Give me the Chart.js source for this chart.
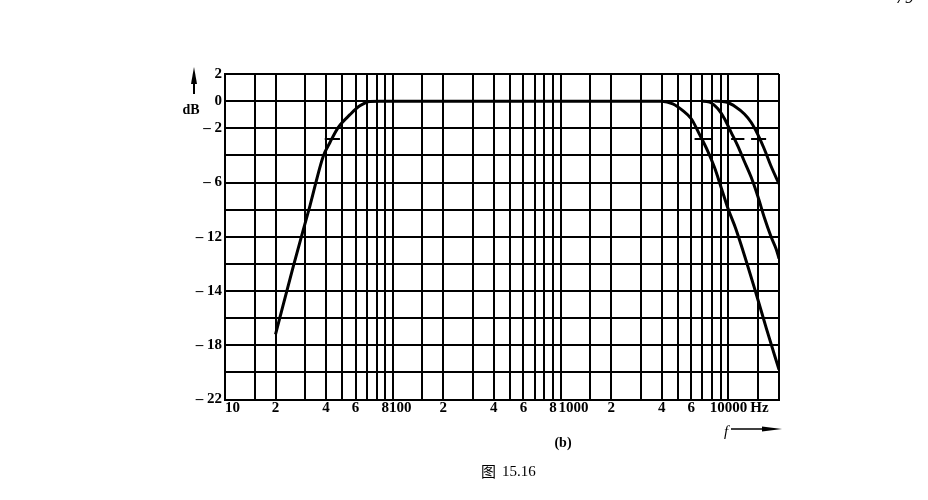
<!DOCTYPE html>
<html>
<head>
<meta charset="utf-8">
<script src="https://cdn.jsdelivr.net/npm/chart.js@4.4.0/dist/chart.umd.min.js"></script>
<style>
  html, body { margin: 0; padding: 0; background: #fff; }
  #wrap { width: 928px; height: 500px; position: relative; }
</style>
</head>
<body>
<div id="wrap"><canvas id="c"></canvas></div>
<script>
// ---- data ----
// Band curve (high-pass rise, flat, first roll-off)
const freqA = [20, 25.5, 32.1, 38.5, 42.2, 47.2, 55.5, 63.6, 73, 84, 200, 1000, 4000, 4660, 5345, 6000, 6720, 7535, 8260, 9060, 9920, 11120, 14620, 16760, 20000];
const dbA   = [-17.2, -12.2, -7.7, -4.06, -3.05, -1.95, -1.0, -0.35, -0.02, 0, 0, 0, 0, -0.2, -0.7, -1.3, -2.45, -3.7, -4.9, -6.4, -7.9, -9.5, -14.2, -16.7, -19.8];
// Second roll-off
const freqB = [6870, 7710, 8650, 9470, 10370, 11360, 12440, 13640, 14940, 16370, 17940, 19230, 20000];
const dbB   = [0, -0.07, -0.57, -1.3, -2.3, -3.3, -4.45, -5.6, -7.0, -8.6, -10.0, -10.9, -11.6];
// Third roll-off
const freqC = [8260, 9660, 11100, 12440, 13640, 14940, 16370, 17940, 20000];
const dbC   = [0, -0.07, -0.45, -0.95, -1.56, -2.45, -3.55, -4.8, -6.1];
// short -3 dB marks
const markStart = [39.3, 6280, 10370, 13640];
const markEnd   = [48.4, 7890, 12440, 16760];
const markDb    = -2.8;

// ---- axes ----
const xTickValues = [10, 15, 20, 30, 40, 50, 60, 70, 80, 90, 100, 150, 200, 300, 400, 500, 600, 700, 800, 900, 1000, 1500, 2000, 3000, 4000, 5000, 6000, 7000, 8000, 9000, 10000, 15000, 20000];
const xTickLabels = ['\u2002\u200210', '', '2', '', '4', '', '6', '', '', '8', '\u2002\u2002100', '', '2', '', '4', '', '6', '', '', '8', '\u2002\u2002\u2002\u20091000', '', '2', '', '4', '', '6', '', '', '', '10000', '\u2009Hz', ''];
const yMin = -22, yMax = 2, yStep = 2;
const yTickLabels = ['\u2013 22', '', '\u2013 18', '', '\u2013 14', '', '\u2013 12', '', '\u2013 6', '', '\u2013 2', '0', '2']; // from -22 upward

const pts = (xs, ys) => xs.map((x, i) => ({ x: x, y: ys[i] }));
const curveStyle = { borderColor: '#000', borderWidth: 3, pointRadius: 0, fill: false, cubicInterpolationMode: 'monotone' };

const datasets = [
  Object.assign({ data: pts(freqA, dbA) }, curveStyle),
  Object.assign({ data: pts(freqB, dbB) }, curveStyle),
  Object.assign({ data: pts(freqC, dbC) }, curveStyle)
];
markStart.forEach((s, i) => {
  datasets.push({ data: [{ x: s, y: markDb }, { x: markEnd[i], y: markDb }], borderColor: '#000', borderWidth: 2, pointRadius: 0, fill: false });
});

const serif = 'Liberation Serif';

const decor = {
  id: 'decor',
  afterDraw(chart) {
    const ctx = chart.ctx;
    ctx.save();
    ctx.fillStyle = '#000';
    ctx.strokeStyle = '#000';
    // dB label and up arrow
    ctx.font = 'bold 14px "' + serif + '"';
    ctx.textAlign = 'center';
    ctx.textBaseline = 'middle';
    ctx.fillText('dB', 191, 110);
    ctx.lineWidth = 2;
    ctx.beginPath(); ctx.moveTo(194, 94); ctx.lineTo(194, 78); ctx.stroke();
    ctx.beginPath(); ctx.moveTo(194, 67); ctx.lineTo(191, 84); ctx.lineTo(197, 84); ctx.closePath(); ctx.fill();
    // f ---->
    ctx.font = 'italic 15px "' + serif + '"';
    ctx.fillText('f', 726, 432);
    ctx.lineWidth = 1.5;
    ctx.beginPath(); ctx.moveTo(731, 429); ctx.lineTo(770, 429); ctx.stroke();
    ctx.beginPath(); ctx.moveTo(782, 429); ctx.lineTo(762, 426.5); ctx.lineTo(762, 431.5); ctx.closePath(); ctx.fill();
    // (b)
    ctx.font = 'bold 14px "' + serif + '"';
    ctx.fillText('(b)', 563, 443);
    // caption
    ctx.font = '15px "Noto Sans CJK SC"';
    ctx.textAlign = 'left';
    ctx.fillText('图', 481, 471);
    ctx.font = '15px "' + serif + '"';
    ctx.fillText('15.16', 502, 472);
    // page number fragment
    ctx.font = 'italic 18px "' + serif + '"';
    ctx.fillText('79', 896, -2);
    ctx.restore();
  }
};

new Chart(document.getElementById('c'), {
  type: 'line',
  data: { datasets: datasets },
  options: {
    responsive: true,
    maintainAspectRatio: false,
    animation: false,
    layout: { padding: { left: 0, top: 74, right: 149, bottom: 0 } },
    plugins: { legend: { display: false }, tooltip: { enabled: false } },
    scales: {
      x: {
        type: 'logarithmic',
        min: 10, max: 20000,
        afterBuildTicks: (s) => { s.ticks = xTickValues.map(v => ({ value: v })); },
        afterFit: (s) => { s.height = 100.5; },
        grid: { color: '#000', lineWidth: 2, drawTicks: false },
        border: { display: true, color: '#000', width: 2 },
        ticks: {
          autoSkip: false, maxRotation: 0, minRotation: 0, padding: 0,
          color: '#000',
          font: { family: serif, size: 15, weight: 'bold' },
          callback: (v, i) => xTickLabels[i]
        }
      },
      y: {
        type: 'linear',
        min: yMin, max: yMax,
        afterFit: (s) => { s.width = 225; },
        grid: { color: '#000', lineWidth: 2, drawTicks: false },
        border: { display: true, color: '#000', width: 2 },
        ticks: {
          stepSize: yStep, padding: 3,
          color: '#000',
          font: { family: serif, size: 15, weight: 'bold' },
          callback: (v, i) => yTickLabels[i]
        }
      }
    }
  },
  plugins: [decor]
});
</script>
</body>
</html>
